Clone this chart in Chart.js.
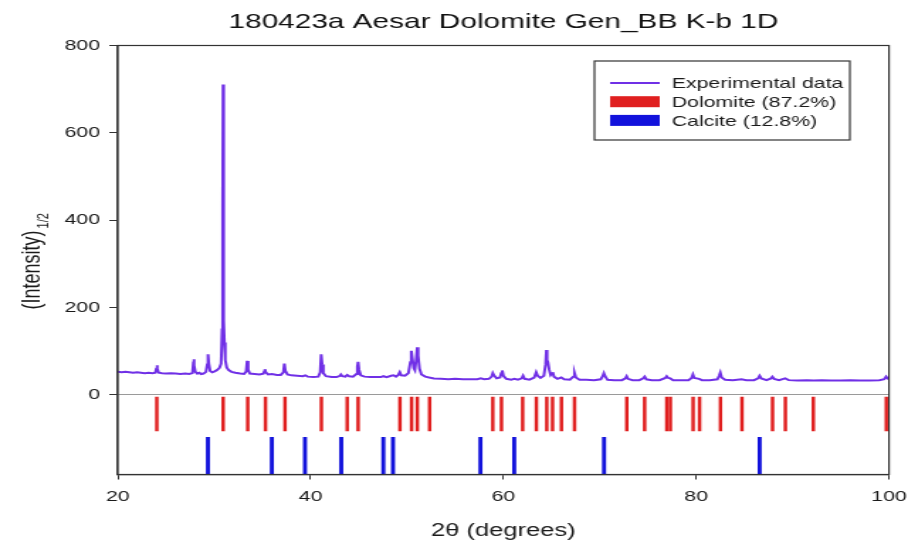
<!DOCTYPE html>
<html>
<head>
<meta charset="utf-8">
<script src="https://cdn.jsdelivr.net/npm/chart.js@4.4.0/dist/chart.umd.min.js"></script>
<style>
  body { margin: 0; background: #fff; }
</style>
</head>
<body>
<!-- drawn narrow and stretched to 908px, like the source picture -->
<canvas id="xrd_chart" width="640" height="544" style="width:908px;height:544px"></canvas>
<script>
// measured pattern, 2theta (degrees) vs sqrt(intensity)
const twoTheta = [
  20.0, 20.4, 20.8, 21.2, 21.6, 22.0, 22.4, 22.8, 23.2, 23.6,
  23.90, 24.00, 24.06, 24.12, 24.25, 24.6, 25.0, 25.5, 26.0, 26.5,
  27.0, 27.4, 27.75, 27.83, 27.88, 27.94, 28.05, 28.25, 28.45, 28.65,
  28.9, 29.15, 29.28, 29.36, 29.44, 29.58, 29.8, 30.05, 30.3, 30.55,
  30.72, 30.82, 30.88, 30.92, 30.96, 31.00, 31.06, 31.15, 31.30, 31.5,
  31.8, 32.2, 32.7, 33.1, 33.32, 33.42, 33.52, 33.7, 34.2, 34.7,
  35.1, 35.2, 35.26, 35.35, 35.6, 36.0, 36.5, 36.9, 37.18, 37.28,
  37.38, 37.6, 38.0, 38.6, 39.2, 39.45, 39.7, 40.3, 40.8, 41.0,
  41.1, 41.2, 41.32, 41.6, 42.2, 42.7, 43.05, 43.15, 43.3, 43.6,
  43.8, 44.0, 44.4, 44.75, 44.86, 44.93, 45.02, 45.2, 45.6, 46.2,
  46.8, 47.3, 47.55, 47.9, 48.35, 48.6, 48.85, 49.1, 49.25, 49.4,
  49.8, 50.15, 50.35, 50.45, 50.55, 50.7, 50.82, 50.95, 51.06, 51.15,
  51.3, 51.5, 51.9, 52.3, 52.8, 53.5, 54.3, 55.0, 55.8, 56.6,
  57.3, 57.65, 58.0, 58.5, 58.78, 58.9, 59.02, 59.3, 59.65, 59.78,
  59.88, 60.0, 60.3, 60.8, 61.15, 61.5, 61.9, 62.04, 62.2, 62.7,
  63.2, 63.4, 63.55, 63.85, 64.2, 64.38, 64.46, 64.53, 64.62, 64.75,
  64.9, 65.05, 65.12, 65.25, 65.6, 66.0, 66.3, 66.9, 67.25, 67.38,
  67.52, 67.9, 68.6, 69.4, 70.1, 70.3, 70.42, 70.55, 70.8, 71.5,
  72.3, 72.65, 72.78, 72.92, 73.4, 74.1, 74.5, 74.66, 74.82, 75.4,
  76.2, 76.8, 76.94, 77.1, 77.32, 77.6, 78.4, 79.2, 79.52, 79.66,
  79.8, 80.3, 80.6, 81.4, 82.2, 82.38, 82.5, 82.64, 83.0, 83.8,
  84.7, 85.2, 86.0, 86.42, 86.58, 86.75, 87.3, 87.75, 87.9, 88.08,
  88.6, 89.22, 89.6, 90.5, 91.5, 92.2, 93.0, 94.0, 95.0, 96.0,
  97.0, 98.0, 99.0, 99.5, 99.7, 99.85, 100.0
];
const intensity = [
  53, 52, 53, 52, 51, 52, 51, 50, 51, 50,
  51, 60, 68, 60, 51, 50, 49, 50, 49, 48,
  49, 48, 50, 70, 82, 68, 53, 49, 51, 48,
  49, 53, 70, 93, 72, 55, 52, 54, 57, 62,
  72, 150, 430, 711, 560, 170, 120, 80, 63, 57,
  53, 51, 49, 48, 54, 78, 58, 49, 48, 47,
  49, 54, 59, 52, 47, 48, 46, 46, 52, 72,
  56, 47, 45, 44, 43, 45, 42, 41, 42, 52,
  93, 70, 50, 43, 41, 41, 44, 47, 43, 42,
  46, 43, 42, 48, 65, 76, 58, 45, 42, 41,
  41, 41, 43, 41, 44, 45, 42, 46, 52, 45,
  44, 50, 75, 101, 85, 62, 57, 80, 109, 90,
  60, 47, 42, 40, 38, 37, 36, 37, 36, 36,
  36, 38, 36, 37, 42, 50, 45, 38, 40, 50,
  56, 44, 37, 35, 37, 35, 38, 44, 37, 35,
  40, 52, 44, 39, 44, 70, 103, 80, 75, 58,
  46, 50, 52, 42, 37, 40, 36, 35, 42, 50,
  40, 35, 35, 34, 36, 43, 50, 43, 35, 34,
  34, 38, 43, 37, 34, 34, 38, 42, 36, 34,
  34, 39, 43, 39, 38, 34, 34, 34, 39, 47,
  39, 37, 34, 34, 36, 44, 51, 40, 35, 34,
  36, 34, 34, 38, 44, 38, 34, 38, 42, 37,
  34, 38, 34, 33, 34, 33, 34, 33, 33, 34,
  33, 33, 34, 36, 42, 38, 36
];

// reference reflection positions (2theta) and the band each set of sticks fills
const dolomiteLines = [24.05, 30.93, 33.48, 35.32, 37.35, 41.12, 43.80, 44.93, 49.27, 50.48,
  51.07, 52.35, 58.90, 59.80, 62.00, 63.42, 64.50, 65.10, 66.02, 67.38,
  72.80, 74.65, 76.95, 77.32, 79.68, 80.35, 82.52, 84.75, 87.92, 89.25,
  92.15, 99.72];
const calciteLines = [29.35, 35.98, 39.42, 43.18, 47.55, 48.55, 57.62, 61.12, 70.44, 86.58];
const dolomiteBand = [-82, -5];
const calciteBand = [-182, -97];

const seriesLabels = ['Experimental data', 'Dolomite (87.2%)', 'Calcite (12.8%)'];
const xTicks = [20, 40, 60, 80, 100];
const yTicks = [0, 200, 400, 600, 800];

const FONT = '"Liberation Sans", Arial, sans-serif';
Chart.defaults.font.family = FONT;
Chart.defaults.color = '#1a1a1a';

const purple = '#7030e6';
const red = '#e01f1f';
const blue = '#1212dc';

// box border round the plot
const framePlugin = {
  id: 'frame',
  afterDraw(chart) {
    const {ctx, chartArea} = chart;
    ctx.save();
    ctx.strokeStyle = '#333';
    ctx.lineWidth = 1.2;
    ctx.strokeRect(chartArea.left, chartArea.top, chartArea.right - chartArea.left, chartArea.bottom - chartArea.top);
    ctx.restore();
  }
};

// y title with the 1/2 superscript
const yTitlePlugin = {
  id: 'yTitle',
  afterDraw(chart) {
    const ctx = chart.ctx;
    ctx.save();
    ctx.translate(23, 270);
    ctx.rotate(-Math.PI / 2);
    ctx.fillStyle = '#1a1a1a';
    ctx.textBaseline = 'middle';
    ctx.textAlign = 'center';
    ctx.font = '18px ' + FONT;
    const txt = '(Intensity)';
    ctx.fillText(txt, 0, 0);
    const w = ctx.measureText(txt).width;
    ctx.font = '11px ' + FONT;
    ctx.textAlign = 'left';
    ctx.fillText('1/2', w / 2 + 2, 8);
    ctx.restore();
  }
};

// legend box inside the plot, top right
const legendPlugin = {
  id: 'legendBox',
  afterDraw(chart) {
    const ctx = chart.ctx;
    const sets = chart.data.datasets;
    ctx.save();
    ctx.fillStyle = '#fff';
    ctx.fillRect(419, 61, 180, 79);
    ctx.strokeStyle = '#333';
    ctx.lineWidth = 1.2;
    ctx.strokeRect(419, 61, 180, 79);
    ctx.font = '15px ' + FONT;
    ctx.textBaseline = 'middle';
    ctx.textAlign = 'left';
    sets.forEach((ds, i) => {
      const y = 83 + i * 18.7;
      if (ds.type === 'line') {
        ctx.strokeStyle = ds.borderColor;
        ctx.lineWidth = 2;
        ctx.beginPath();
        ctx.moveTo(430, y);
        ctx.lineTo(465, y);
        ctx.stroke();
      } else {
        ctx.fillStyle = ds.backgroundColor;
        ctx.fillRect(430, y - 5.5, 35, 11);
      }
      ctx.fillStyle = '#1a1a1a';
      ctx.fillText(ds.label, 473.5, y + 1);
    });
    ctx.restore();
  }
};

const ctx = document.getElementById('xrd_chart');

new Chart(ctx, {
  data: {
    datasets: [
      {
        type: 'line',
        label: seriesLabels[0],
        data: twoTheta.map((t, i) => ({x: t, y: intensity[i]})),
        borderColor: purple,
        borderWidth: 2,
        pointRadius: 0,
        tension: 0
      },
      {
        type: 'bar',
        label: seriesLabels[1],
        data: dolomiteLines.map(t => ({x: t, y: dolomiteBand})),
        backgroundColor: red,
        barThickness: 1.8,
        grouped: false
      },
      {
        type: 'bar',
        label: seriesLabels[2],
        data: calciteLines.map(t => ({x: t, y: calciteBand})),
        backgroundColor: blue,
        barThickness: 2.2,
        grouped: false
      }
    ]
  },
  options: {
    responsive: false,
    animation: false,
    layout: {padding: {left: 0, right: 13.4, top: 0, bottom: 0}},
    plugins: {
      legend: {display: false},
      tooltip: {enabled: false},
      title: {
        display: true,
        text: '180423a Aesar Dolomite Gen_BB K-b 1D',
        fullSize: false,
        font: {size: 21, weight: 'normal'},
        color: '#111',
        padding: {top: 10, bottom: 10.3}
      }
    },
    scales: {
      x: {
        type: 'linear',
        min: 20,
        max: 100,
        offset: false,
        afterBuildTicks: scale => { scale.ticks = xTicks.map(v => ({value: v})); },
        afterFit: scale => {
          scale.height = 69.5;
          scale.paddingLeft = 0;
          scale.paddingRight = 0;
        },
        grid: {offset: false, drawOnChartArea: false, drawTicks: true, tickLength: 5, tickColor: '#333'},
        border: {display: true, color: '#333', width: 1.2},
        ticks: {font: {size: 15}, padding: 8, maxRotation: 0},
        title: {
          display: true,
          text: '2θ (degrees)',
          font: {size: 18},
          padding: {top: 0, bottom: 2}
        }
      },
      y: {
        type: 'linear',
        min: -182,
        max: 800,
        afterBuildTicks: scale => { scale.ticks = yTicks.map(v => ({value: v})); },
        afterFit: scale => { scale.width = 83; },
        grid: {
          drawOnChartArea: true,
          drawTicks: true,
          tickLength: 6,
          tickColor: '#333',
          color: c => (c.tick && c.tick.value === 0 ? '#9a9a9a' : 'rgba(0,0,0,0)')
        },
        border: {display: true, color: '#333', width: 1.2},
        ticks: {font: {size: 15}, padding: 6.5}
      }
    }
  },
  plugins: [framePlugin, yTitlePlugin, legendPlugin]
});
</script>
</body>
</html>
